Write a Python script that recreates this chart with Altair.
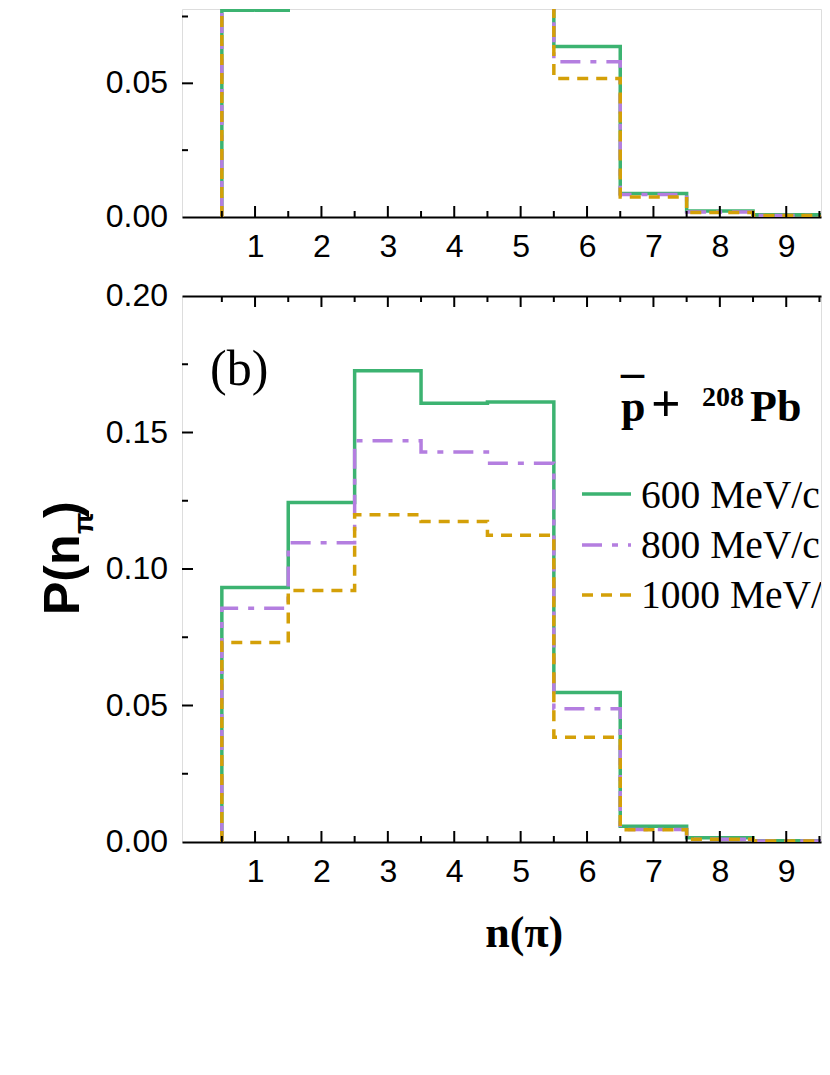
import altair as alt
import pandas as pd

# ---------------- data ----------------
bins = [1, 2, 3, 4, 5, 6, 7, 8, 9, 10]
series = ["600 MeV/c", "800 MeV/c", "1000 MeV/c"]

# panel (a): bins 2-5 (and bin 1 for 800/1000) lie above the visible window
a_600 = [0.0773, 0.125, 0.178, 0.170, 0.168, 0.0638, 0.0088, 0.0022, 0.0008, 0.0002]
a_800 = [0.0850, 0.112, 0.155, 0.150, 0.146, 0.0581, 0.0084, 0.0019, 0.0006, 0.0002]
a_1000 = [0.0900, 0.101, 0.130, 0.126, 0.121, 0.0518, 0.0075, 0.0017, 0.0006, 0.0002]

# panel (b): pbar + 208Pb
b_600 = [0.0932, 0.1244, 0.1726, 0.1607, 0.1612, 0.0548, 0.0058, 0.0016, 0.0005, 0.0002]
b_800 = [0.0856, 0.1096, 0.1470, 0.1429, 0.1387, 0.0488, 0.0046, 0.0010, 0.0004, 0.0001]
b_1000 = [0.0731, 0.0921, 0.1199, 0.1174, 0.1124, 0.0384, 0.0045, 0.0010, 0.0004, 0.0001]

x_labels = [1, 2, 3, 4, 5, 6, 7, 8, 9]
x_major = [1, 2, 3, 4, 5, 6, 7, 8, 9]
x_minor = [0.5, 1.5, 2.5, 3.5, 4.5, 5.5, 6.5, 7.5, 8.5, 9.5]
ya_labels = [0.0, 0.05]
ya_major = [0.05]
ya_minor = [0.025, 0.075]
yb_labels = [0.0, 0.05, 0.10, 0.15, 0.20]
yb_major = [0.05, 0.10, 0.15]
yb_minor = [0.025, 0.075, 0.125, 0.175]

# ---------------- styles ----------------
COLORS = ["#3cb371", "#b47ee0", "#d4a008"]
DASHES = [[1, 0], [20, 10, 6, 10], [11, 8]]
LW = 3.5
W = 639
HA = 208
HB = 546
XDOM = [-0.1, -0.1 + W / 66.4]
SANS = "Liberation Sans"
SERIF = "Liberation Serif"
TICK_FS = 32


def step_frame(vals):
    rows = [{"x": bins[0] - 0.5, "y": 0.0, "o": 0}]
    k = 1
    for b, v in zip(bins, vals):
        rows.append({"x": b - 0.5, "y": v, "o": k}); k += 1
        rows.append({"x": b + 0.5, "y": v, "o": k}); k += 1
    return pd.DataFrame(rows)


def panel(vals_list, ydom, height, y_labels, y_major, y_minor, top_axis):
    xs = alt.Scale(domain=XDOM, nice=False, zero=False)
    ys = alt.Scale(domain=ydom, nice=False, zero=False)
    layers = []
    for i, vals in enumerate(vals_list):
        if i == 0:
            xax = alt.Axis(orient="bottom", values=x_labels, format="d", ticks=False, tickSize=0,
                           domain=True, domainColor="black", domainWidth=2, grid=False,
                           labelFont=SANS, labelFontSize=TICK_FS, labelColor="black",
                           labelPadding=14, title=None)
            yax = alt.Axis(orient="left", labels=False, ticks=False, tickSize=0,
                           domain=True, domainColor="black", domainWidth=2, grid=False,
                           title=None)
        else:
            xax = None
            yax = None
        layers.append(
            alt.Chart(step_frame(vals)).mark_line(
                clip=True, color=COLORS[i], strokeWidth=LW, strokeDash=DASHES[i]
            ).encode(
                x=alt.X("x:Q", scale=xs, axis=xax),
                y=alt.Y("y:Q", scale=ys, axis=yax),
                order="o:Q",
            )
        )
    # y tick labels as text through the y scale
    layers.append(
        alt.Chart(pd.DataFrame({"v": y_labels})).mark_text(
            font=SANS, fontSize=TICK_FS, align="right", baseline="middle", color="black", dx=-14
        ).encode(
            y=alt.Y("v:Q", scale=ys, axis=None),
            x=alt.value(0),
            text=alt.Text("v:Q", format=".2f"),
        )
    )
    # inward ticks
    for vals, ln in ((x_major, 11), (x_minor, 6)):
        layers.append(
            alt.Chart(pd.DataFrame({"v": vals})).mark_rule(color="black", strokeWidth=2).encode(
                x=alt.X("v:Q", scale=xs, axis=None), y=alt.value(height), y2=alt.value(height - ln)
            )
        )
        if top_axis:
            layers.append(
                alt.Chart(pd.DataFrame({"v": vals})).mark_rule(color="black", strokeWidth=2).encode(
                    x=alt.X("v:Q", scale=xs, axis=None), y=alt.value(0), y2=alt.value(ln)
                )
            )
    for vals, ln in ((y_major, 11), (y_minor, 6)):
        layers.append(
            alt.Chart(pd.DataFrame({"v": vals})).mark_rule(color="black", strokeWidth=2).encode(
                y=alt.Y("v:Q", scale=ys, axis=None), x=alt.value(0), x2=alt.value(ln)
            )
        )
    if top_axis:
        layers.append(
            alt.Chart(pd.DataFrame({"v": [XDOM[0]]})).mark_point(opacity=0).encode(
                x=alt.X("v:Q", scale=xs,
                        axis=alt.Axis(orient="top", labels=False, ticks=False, tickSize=0,
                                      domain=True, domainColor="black", domainWidth=2,
                                      grid=False, title=None)),
            )
        )
    return layers


def txt(s, x, y, size, font, weight="normal", angle=0, align="left", clip=False):
    return alt.Chart(pd.DataFrame({"t": [s]})).mark_text(
        text=s, font=font, fontSize=size, fontWeight=weight, angle=angle, align=align,
        baseline="alphabetic", color="black", clip=clip
    ).encode(x=alt.value(x), y=alt.value(y))


# ---------------- panel (a) ----------------
layers_a = panel([a_600, a_800, a_1000], [0, 0.0778], HA, ya_labels, ya_major, ya_minor, False)
chart_a = alt.layer(*layers_a).resolve_axis(x="independent").properties(width=W, height=HA)

# ---------------- panel (b) ----------------
layers_b = panel([b_600, b_800, b_1000], [0, 0.2], HB, yb_labels, yb_major, yb_minor, True)

# y title  P(n_pi)
layers_b.append(txt("P(n", -102.7, 319, 50, SANS, "bold", 270))
layers_b.append(txt("\u03c0", -89, 238, 28, SANS, "bold", 270))
layers_b.append(txt(")", -102.7, 222, 50, SANS, "bold", 270))
# x title n(pi)
layers_b.append(txt("n(\u03c0)", 342.3, 651, 44, SERIF, "bold", 0, "center"))
# panel label
layers_b.append(txt("(b)", 28, 89, 50, SERIF))
# reaction label  pbar + 208Pb
layers_b.append(txt("_", 439, 76, 46, SERIF, "bold"))
layers_b.append(txt("p", 439, 125, 44, SERIF, "bold"))
layers_b.append(txt("+", 469, 125, 52, SERIF, "bold"))
layers_b.append(txt("208", 520, 110, 28, SERIF, "bold"))
layers_b.append(txt("Pb", 568, 125, 44, SERIF, "bold"))
# legend
leg_y = [198, 249, 299]
leg_t = [212, 262, 312]
for i, name in enumerate(series):
    layers_b.append(
        alt.Chart(pd.DataFrame({"s": [name]})).mark_rule(
            color=COLORS[i], strokeWidth=LW, strokeDash=DASHES[i]
        ).encode(x=alt.value(400), x2=alt.value(449), y=alt.value(leg_y[i]))
    )
    layers_b.append(txt(name, 459, leg_t[i], 39.5, SERIF, clip=True))

chart_b = alt.layer(*layers_b).resolve_axis(x="independent").properties(width=W, height=HB)

chart = alt.vconcat(chart_a, chart_b, spacing=16).properties(
    padding={"left": 30, "top": 0, "right": 0, "bottom": 0}
).configure_view(stroke=None).configure(background="white")

chart.save("out.html", embed_options={"renderer": "svg", "actions": False})
